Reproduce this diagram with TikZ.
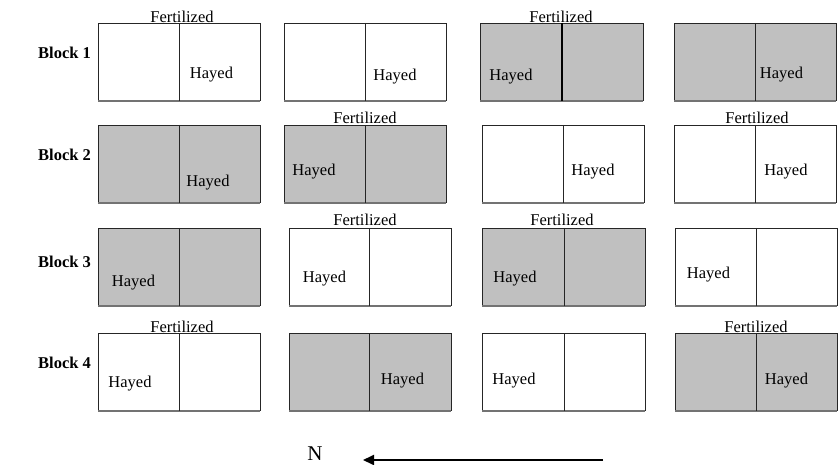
\documentclass[tikz,border=0pt]{standalone}
\usepackage{fontspec}
\setmainfont{Liberation Serif}
\usetikzlibrary{arrows.meta}
\definecolor{plotgray}{HTML}{C0C0C0}
\tikzset{
  plotline/.style={draw=black!85, line width=0.9pt},
  bottomline/.style={draw=black!55, line width=1.6pt},
  lbl/.style={inner sep=0pt, font=\fontsize{16.5}{18}\selectfont},
  blk/.style={inner sep=0pt, anchor=west, font=\fontsize{16.5}{18}\selectfont\bfseries},
}
\newcommand\plotbox[5]{%
  \fill[#5] (#1,#4) rectangle (#2,#4+78);
  \draw[plotline] (#1,#4+78) -- (#1,#4) -- (#2,#4) -- (#2,#4+78);
  \draw[bottomline] (#1,#4+78) -- (#2,#4+78);
  \draw[plotline] (#3,#4) -- (#3,#4+78);}
\begin{document}
\begin{tikzpicture}[x=1pt,y=-1pt]
\useasboundingbox (0,0) rectangle (838,465);
% Row 1
\plotbox{98}{260}{179}{23}{white}
\plotbox{284}{446}{365}{23}{white}
\plotbox{480}{643}{562}{23}{plotgray}
\draw[line width=2pt] (562,23) -- (562,101);
\plotbox{674}{836}{755}{23}{plotgray}
% Row 2
\plotbox{98}{260}{179}{125}{plotgray}
\plotbox{284}{446}{365}{125}{plotgray}
\plotbox{482}{644}{563}{125}{white}
\plotbox{674}{836}{755}{125}{white}
% Row 3
\plotbox{98}{260}{179}{228}{plotgray}
\plotbox{289}{451}{369}{228}{white}
\plotbox{482}{645}{564}{228}{plotgray}
\plotbox{675}{837}{756}{228}{white}
% Row 4
\plotbox{98}{260}{179}{333}{white}
\plotbox{289}{451}{369}{333}{plotgray}
\plotbox{482}{645}{564}{333}{white}
\plotbox{675}{837}{756}{333}{plotgray}

% Block labels
\node[blk] (b1) at (38,53) {Block 1};
\node[blk] (b2) at (38,155) {Block 2};
\node[blk] (b3) at (38,262) {Block 3};
\node[blk] (b4) at (38,363) {Block 4};

% Fertilized labels
\node[lbl] (f11) at (182,17) {Fertilized};
\node[lbl] (f13) at (561,17) {Fertilized};
\node[lbl] (f22) at (365,118) {Fertilized};
\node[lbl] (f24) at (757,118) {Fertilized};
\node[lbl] (f32) at (365,220) {Fertilized};
\node[lbl] (f33) at (562,220) {Fertilized};
\node[lbl] (f41) at (182,327) {Fertilized};
\node[lbl] (f44) at (756,327) {Fertilized};

% Hayed labels
\node[lbl] (h11) at (211.5,75) {Hayed};
\node[lbl] (h12) at (395,77) {Hayed};
\node[lbl] (h13) at (511,77) {Hayed};
\node[lbl] (h14) at (781.5,75) {Hayed};
\node[lbl] (h21) at (208,183) {Hayed};
\node[lbl] (h22) at (314,172) {Hayed};
\node[lbl] (h23) at (593,172) {Hayed};
\node[lbl] (h24) at (786,172) {Hayed};
\node[lbl] (h31) at (133.5,283) {Hayed};
\node[lbl] (h32) at (324.5,279) {Hayed};
\node[lbl] (h33) at (515,279) {Hayed};
\node[lbl] (h34) at (708.5,275) {Hayed};
\node[lbl] (h41) at (130,384) {Hayed};
\node[lbl] (h42) at (402.5,381) {Hayed};
\node[lbl] (h43) at (514,381) {Hayed};
\node[lbl] (h44) at (786.5,381) {Hayed};

% North arrow
\node[inner sep=0pt, font=\fontsize{21}{23}\selectfont] (north) at (315,454) {N};
\coordinate (atail) at (603,460);
\coordinate (atip) at (363,460);
\draw[line width=1.8pt, -{Triangle[length=11pt,width=10pt]}] (atail) -- (atip);
\end{tikzpicture}
\end{document}
